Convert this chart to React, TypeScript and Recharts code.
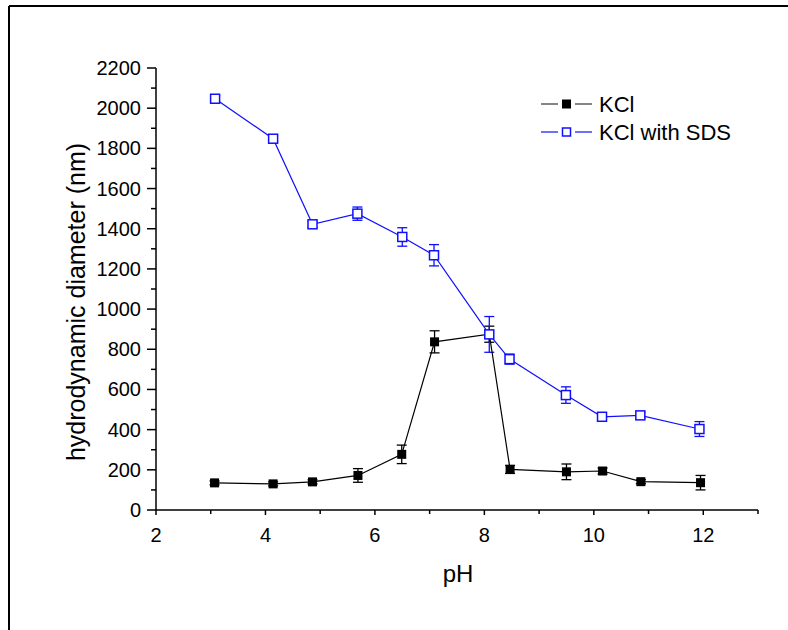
import React from 'react';
import { ScatterChart, Scatter, XAxis, YAxis, ErrorBar } from 'recharts';

// KCl only
const phKCl = [3.07, 4.14, 4.86, 5.69, 6.49, 7.09, 8.09, 8.47, 9.5, 10.16, 10.86, 11.95];
const diamKCl = [135, 130, 140, 172, 277, 837, 875, 202, 190, 194, 141, 136];
const errKCl = [10, 10, 10, 34, 46, 55, 40, 20, 39, 15, 10, 36];

// KCl with SDS
const phSDS = [3.08, 4.14, 4.86, 5.68, 6.5, 7.08, 8.09, 8.46, 9.49, 10.15, 10.85, 11.93];
const diamSDS = [2047, 1848, 1422, 1475, 1359, 1268, 874, 751, 572, 464, 471, 403];
const errSDS = [15, 15, 15, 33, 46, 53, 89, 25, 41, 15, 15, 37];

const xTicks = [2, 3, 4, 5, 6, 7, 8, 9, 10, 11, 12, 13];
const yTicks = [0, 100, 200, 300, 400, 500, 600, 700, 800, 900, 1000, 1100, 1200, 1300, 1400, 1500, 1600, 1700, 1800, 1900, 2000, 2100, 2200];

const seriesNames = ['KCl', 'KCl with SDS'];

const kclData = phKCl.map((ph, i) => ({ ph, d: diamKCl[i], err: errKCl[i] }));
const sdsData = phSDS.map((ph, i) => ({ ph, d: diamSDS[i], err: errSDS[i] }));

const FONT = '"Liberation Sans", Arial, sans-serif';
const BLUE = '#1010ff';

const YTick = (props: any) => {
  const { x, y, payload } = props;
  const major = payload.value % 200 === 0;
  return (
    <g>
      <line x1={x} x2={x - (major ? 9 : 5)} y1={y} y2={y} stroke="#000" strokeWidth={1.5} />
      {major && (
        <text x={x - 15} y={y} textAnchor="end" dominantBaseline="central" fontSize={20} fontFamily={FONT} fill="#000">
          {payload.value}
        </text>
      )}
    </g>
  );
};

const XTick = (props: any) => {
  const { x, y, payload } = props;
  const major = payload.value % 2 === 0;
  return (
    <g>
      <line x1={x} x2={x} y1={y} y2={y + (major ? 5 : 4)} stroke="#000" strokeWidth={1.5} />
      {major && (
        <text x={x} y={y + 25} textAnchor="middle" dominantBaseline="central" fontSize={20} fontFamily={FONT} fill="#000">
          {payload.value}
        </text>
      )}
    </g>
  );
};

const FilledSquare = (props: any) => (
  <rect x={props.cx - 4.5} y={props.cy - 4.5} width={9} height={9} fill="#000" />
);

const OpenSquare = (props: any) => (
  <rect x={props.cx - 4.5} y={props.cy - 4.5} width={9} height={9} fill="#fff" stroke={BLUE} strokeWidth={1.5} />
);

export default function App() {
  return (
    <div style={{ position: 'absolute', left: 0, top: 0, width: 788, height: 630, background: '#fff', overflow: 'hidden' }}>
      <ScatterChart width={788} height={630} margin={{ top: 68, right: 30, bottom: 0, left: 0 }}>
        <XAxis
          type="number"
          dataKey="ph"
          domain={[2, 13]}
          ticks={xTicks}
          interval={0}
          tick={<XTick />}
          tickLine={false}
          tickSize={0}
          tickMargin={0}
          height={120}
          axisLine={{ stroke: '#000', strokeWidth: 1.5 }}
        />
        <YAxis
          type="number"
          dataKey="d"
          domain={[0, 2200]}
          ticks={yTicks}
          interval={0}
          tick={<YTick />}
          tickLine={false}
          tickSize={0}
          tickMargin={0}
          width={156}
          axisLine={{ stroke: '#000', strokeWidth: 1.5 }}
        />
        <Scatter
          name={seriesNames[0]}
          data={kclData}
          line={{ stroke: '#000', strokeWidth: 1.2 }}
          lineType="joint"
          shape={<FilledSquare />}
          isAnimationActive={false}
        >
          <ErrorBar dataKey="err" direction="y" width={5} stroke="#000" strokeWidth={1.3} />
        </Scatter>
        <Scatter
          name={seriesNames[1]}
          data={sdsData}
          line={{ stroke: BLUE, strokeWidth: 1.2 }}
          lineType="joint"
          shape={<OpenSquare />}
          isAnimationActive={false}
        >
          <ErrorBar dataKey="err" direction="y" width={5} stroke={BLUE} strokeWidth={1.3} />
        </Scatter>
      </ScatterChart>

      <svg width={788} height={630} style={{ position: 'absolute', left: 0, top: 0, pointerEvents: 'none' }}>
        <line x1={9} y1={6} x2={788} y2={6} stroke="#000" strokeWidth={2} />
        <line x1={9} y1={6} x2={9} y2={630} stroke="#000" strokeWidth={2} />

        <text
          transform="translate(76, 302) rotate(-90)"
          textAnchor="middle"
          dominantBaseline="central"
          fontSize={25}
          fontFamily={FONT}
          fill="#000"
        >
          hydrodynamic diameter (nm)
        </text>
        <text x={458} y={573} textAnchor="middle" dominantBaseline="central" fontSize={24} fontFamily={FONT} fill="#000">
          pH
        </text>

        <g>
          <line x1={541} x2={558} y1={104} y2={104} stroke="#333" strokeWidth={1.2} />
          <line x1={575} x2={592} y1={104} y2={104} stroke="#333" strokeWidth={1.2} />
          <rect x={562} y={99.5} width={9} height={9} fill="#000" />
          <text x={599} y={104} dominantBaseline="central" fontSize={22} fontFamily={FONT} fill="#000">
            {seriesNames[0]}
          </text>
          <line x1={541} x2={558} y1={132} y2={132} stroke={BLUE} strokeWidth={1.2} />
          <line x1={575} x2={592} y1={132} y2={132} stroke={BLUE} strokeWidth={1.2} />
          <rect x={562.5} y={128} width={8} height={8} fill="#fff" stroke={BLUE} strokeWidth={1.5} />
          <text x={599} y={132} dominantBaseline="central" fontSize={22} fontFamily={FONT} fill="#000">
            {seriesNames[1]}
          </text>
        </g>
      </svg>
    </div>
  );
}
